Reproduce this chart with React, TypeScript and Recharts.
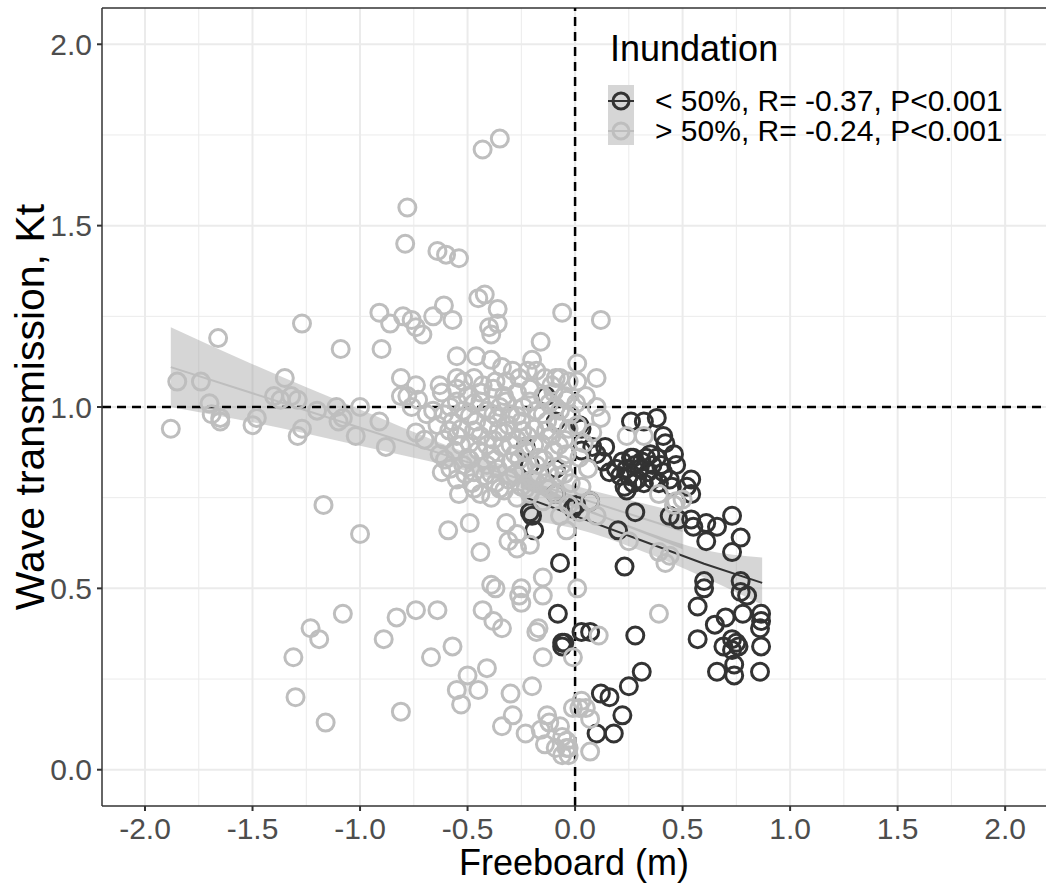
import React from "react";
import {
  Area,
  CartesianGrid,
  ComposedChart,
  Line,
  ReferenceLine,
  Scatter,
  XAxis,
  YAxis,
} from "recharts";

const FONT = '"Liberation Sans", Arial, Helvetica, sans-serif';
const DARK = "#333333";
const LIGHT = "#bebebe";

const xTicks = [-2, -1.5, -1, -0.5, 0, 0.5, 1, 1.5, 2];
const yTicks = [0, 0.5, 1, 1.5, 2];
const xMinor = [-1.75, -1.25, -0.75, -0.25, 0.25, 0.75, 1.25, 1.75];
const yMinor = [0.25, 0.75, 1.25, 1.75];

const legendLabels = [
  "< 50%, R= -0.37, P<0.001",
  "> 50%, R= -0.24, P<0.001",
];

// inundation < 50% (dark)
const below50: [number, number][] = [
  [-0.135, 1.03], [-0.09, 0.96], [-0.23, 0.89], [-0.21, 0.84], [-0.09, 0.83],
  [-0.09, 0.76], [-0.21, 0.71], [-0.2, 0.7], [0.02, 0.95], [0.03, 0.88],
  [0.005, 0.73], [-0.19, 0.66], [-0.07, 0.57], [-0.08, 0.43], [-0.06, 0.35],
  [-0.06, 0.34], [0.23, 0.56], [0.61, 0.63], [0.73, 0.6], [0.77, 0.64],
  [0.6, 0.52], [0.6, 0.5], [0.77, 0.52], [0.77, 0.49], [0.8, 0.48],
  [0.57, 0.45], [0.78, 0.43], [0.865, 0.43], [0.865, 0.41], [0.86, 0.39],
  [0.7, 0.42], [0.65, 0.4], [0.03, 0.38], [0.07, 0.38], [-0.05, 0.35],
  [0.28, 0.37], [0.57, 0.36], [0.69, 0.34], [0.73, 0.36], [0.75, 0.35],
  [0.73, 0.33], [0.76, 0.34], [0.865, 0.34], [0.74, 0.29], [0.66, 0.27],
  [0.74, 0.26], [0.86, 0.27], [0.31, 0.27], [0.25, 0.23], [0.12, 0.21],
  [0.16, 0.2], [0.22, 0.15], [0.1, 0.1], [0.18, 0.1],
  [0.38, 0.97], [0.26, 0.96], [0.32, 0.96], [0.03, 0.94], [0.41, 0.92],
  [0.42, 0.9], [0.46, 0.87], [0.47, 0.84], [0.08, 0.89], [0.14, 0.89],
  [0.1, 0.87], [0.13, 0.85], [0.16, 0.82], [0.26, 0.86], [0.33, 0.86],
  [0.38, 0.86], [0.24, 0.83], [0.3, 0.83], [0.36, 0.84], [0.41, 0.82],
  [0.21, 0.81], [0.27, 0.79], [0.32, 0.79], [0.39, 0.79], [0.44, 0.8],
  [0.24, 0.77], [0.45, 0.78], [0.54, 0.8], [0.54, 0.76], [0.52, 0.78],
  [0.44, 0.7], [0.48, 0.69], [0.54, 0.69], [0.55, 0.67], [0.61, 0.68],
  [0.66, 0.67], [0.73, 0.7], [0.28, 0.71], [0.2, 0.66], [0.07, 0.74],
  [-0.01, 0.72], [0.22, 0.85], [0.28, 0.84], [0.34, 0.82], [0.31, 0.85],
  [0.25, 0.81], [0.29, 0.8], [0.36, 0.8], [0.4, 0.84], [0.27, 0.86],
  [0.35, 0.87], [0.19, 0.83], [0.23, 0.78],
];

// inundation > 50% (light)
const above50: [number, number][] = [
  [-1.88, 0.94], [-1.85, 1.07], [-1.74, 1.07], [-1.66, 1.19], [-1.7, 1.01],
  [-1.69, 0.98], [-1.65, 0.97], [-1.65, 0.96], [-1.5, 0.95], [-1.48, 0.97],
  [-1.4, 1.03], [-1.37, 1.02], [-1.35, 1.08], [-1.32, 1.03], [-1.29, 1.02],
  [-1.27, 0.94], [-1.29, 0.92], [-1.27, 1.23], [-1.2, 0.99], [-1.11, 1.0],
  [-1.08, 0.97], [-1.1, 0.96], [-1.09, 1.16], [-1.17, 0.73], [-1.08, 0.43],
  [-1.23, 0.39], [-1.19, 0.36], [-1.31, 0.31], [-1.3, 0.2], [-1.16, 0.13],
  [-1.0, 0.65], [-1.0, 1.0], [-1.02, 0.92],
  [-0.91, 1.26], [-0.86, 1.23], [-0.8, 1.25], [-0.76, 1.24], [-0.74, 1.22],
  [-0.71, 1.2], [-0.66, 1.25], [-0.61, 1.28], [-0.57, 1.24], [-0.79, 1.45],
  [-0.78, 1.55], [-0.64, 1.43], [-0.6, 1.42], [-0.54, 1.41], [-0.9, 1.16],
  [-0.81, 1.08], [-0.74, 1.06], [-0.63, 1.06], [-0.55, 1.08], [-0.55, 1.14],
  [-0.81, 1.03], [-0.78, 1.03], [-0.73, 1.02], [-0.76, 1.0], [-0.91, 0.96],
  [-0.88, 0.89], [-0.69, 0.98], [-0.74, 0.93], [-0.7, 0.91], [-0.62, 0.82],
  [-0.54, 0.76], [-0.59, 0.66], [-0.74, 0.44], [-0.64, 0.44], [-0.83, 0.42],
  [-0.89, 0.36], [-0.67, 0.31], [-0.57, 0.34], [-0.81, 0.16],
  [-0.45, 1.3], [-0.42, 1.31], [-0.36, 1.27], [-0.4, 1.22], [-0.36, 1.23],
  [-0.43, 1.71], [-0.35, 1.74], [-0.16, 1.18], [-0.06, 1.26], [-0.39, 1.2],
  [-0.46, 1.14], [-0.39, 1.13], [-0.34, 1.11], [-0.2, 1.13], [-0.22, 1.1],
  [-0.47, 1.08], [-0.43, 1.06], [-0.32, 1.07], [-0.26, 1.08], [-0.14, 1.08],
  [-0.09, 1.08], [-0.11, 1.06],
  [0.01, 1.12], [0.1, 1.08], [0.01, 1.07], [-0.07, 1.08], [0.05, 1.03],
  [-0.05, 1.03], [0.1, 1.0], [0.005, 1.01], [0.24, 0.92], [0.32, 0.92],
  [0.39, 0.76], [0.47, 0.74], [0.5, 0.745], [0.46, 0.73], [0.12, 1.24],
  [-0.44, 0.6], [-0.31, 0.63], [-0.27, 0.61], [-0.21, 0.62], [-0.15, 0.53],
  [-0.39, 0.51], [-0.37, 0.5], [-0.25, 0.5], [-0.26, 0.48], [-0.25, 0.46],
  [-0.15, 0.48], [-0.43, 0.44], [-0.38, 0.41], [-0.34, 0.39], [-0.17, 0.39],
  [-0.18, 0.38], [-0.15, 0.31], [-0.01, 0.31], [-0.41, 0.28], [-0.5, 0.26],
  [-0.45, 0.22], [-0.55, 0.22], [-0.53, 0.18], [-0.2, 0.23], [-0.3, 0.21],
  [-0.29, 0.15], [-0.34, 0.12], [-0.23, 0.1], [-0.13, 0.15], [-0.12, 0.13],
  [-0.16, 0.11], [-0.14, 0.07], [-0.07, 0.12], [-0.06, 0.09], [-0.09, 0.06],
  [-0.04, 0.06], [-0.06, 0.04], [-0.03, 0.04], [-0.01, 0.17], [-0.49, 0.68],
  [-0.32, 0.68], [-0.27, 0.65], [-0.04, 0.66], [-0.07, 0.7],
  [0.25, 0.63], [0.39, 0.6], [0.44, 0.59], [0.42, 0.57], [0.01, 0.5],
  [0.39, 0.43], [0.11, 0.37], [0.03, 0.19], [0.02, 0.17], [0.07, 0.14],
  [0.05, 0.17], [-0.04, 0.08], [-0.03, 0.06], [0.07, 0.05],
  // dense cluster left of zero
  [-0.62, 1.04], [-0.55, 1.05], [-0.5, 1.03], [-0.44, 1.04], [-0.38, 1.05],
  [-0.33, 1.03], [-0.27, 1.04], [-0.21, 1.05], [-0.15, 1.03], [-0.1, 1.04],
  [-0.04, 1.02], [-0.66, 0.99], [-0.58, 1.0], [-0.52, 0.99], [-0.47, 1.01],
  [-0.41, 0.99], [-0.35, 1.0], [-0.3, 0.98], [-0.24, 1.0], [-0.18, 0.99],
  [-0.12, 1.01], [-0.07, 0.99], [-0.02, 0.98], [-0.64, 0.95], [-0.57, 0.96],
  [-0.53, 0.94], [-0.46, 0.96], [-0.4, 0.95], [-0.36, 0.97], [-0.31, 0.95],
  [-0.25, 0.96], [-0.19, 0.94], [-0.13, 0.96], [-0.08, 0.95], [-0.03, 0.94],
  [-0.61, 0.91], [-0.55, 0.92], [-0.49, 0.9], [-0.44, 0.92], [-0.38, 0.91],
  [-0.33, 0.93], [-0.27, 0.91], [-0.22, 0.92], [-0.16, 0.9], [-0.11, 0.92],
  [-0.05, 0.91], [-0.63, 0.87], [-0.56, 0.88], [-0.5, 0.86], [-0.45, 0.88],
  [-0.39, 0.87], [-0.34, 0.89], [-0.28, 0.87], [-0.23, 0.88], [-0.17, 0.86],
  [-0.1, 0.88], [-0.04, 0.87], [-0.58, 0.83], [-0.52, 0.84], [-0.47, 0.82],
  [-0.41, 0.84], [-0.36, 0.83], [-0.3, 0.85], [-0.24, 0.83], [-0.18, 0.84],
  [-0.12, 0.82], [-0.06, 0.84], [-0.55, 0.8], [-0.48, 0.79], [-0.42, 0.81],
  [-0.37, 0.79], [-0.31, 0.8], [-0.25, 0.78], [-0.2, 0.8], [-0.14, 0.79],
  [-0.08, 0.81], [-0.02, 0.79], [-0.44, 0.76], [-0.39, 0.75], [-0.33, 0.77],
  [-0.27, 0.75], [-0.21, 0.76], [-0.15, 0.74], [-0.09, 0.76], [-0.03, 0.73],
  [-0.52, 1.07], [-0.37, 1.07], [-0.29, 1.1], [-0.18, 1.1], [-0.03, 1.07],
  [-0.55, 1.015], [-0.44, 1.015], [-0.32, 1.015], [-0.21, 1.015], [-0.09, 1.0],
  [-0.61, 0.98], [-0.49, 0.975], [-0.38, 0.98], [-0.27, 0.975], [-0.15, 0.98],
  [-0.585, 0.935], [-0.47, 0.935], [-0.355, 0.935], [-0.245, 0.935],
  [-0.135, 0.935], [-0.53, 0.895], [-0.41, 0.895], [-0.3, 0.895], [-0.19, 0.895],
  [-0.075, 0.895], [-0.605, 0.855], [-0.49, 0.855], [-0.37, 0.855],
  [-0.26, 0.855], [-0.145, 0.855], [-0.51, 0.815], [-0.39, 0.815],
  [-0.28, 0.815], [-0.17, 0.815], [-0.05, 0.815], [-0.47, 0.775],
  [-0.35, 0.775], [-0.23, 0.775], [-0.12, 0.775],
  // right of zero
  [0.01, 0.95], [0.04, 0.9], [0.02, 0.86], [0.06, 0.83], [0.03, 0.78],
  [0.07, 0.74], [0.02, 0.71], [0.1, 0.7], [0.08, 0.93], [0.12, 0.97],
];

// linear fits with confidence band
const fitBelowX = [-0.25, 0, 0.3, 0.6, 0.87];
const fitBelowY = [0.755, 0.7, 0.634, 0.568, 0.515];
const fitBelowLo = [0.69, 0.665, 0.605, 0.53, 0.455];
const fitBelowHi = [0.82, 0.735, 0.663, 0.606, 0.585];

const fitAboveX = [-1.88, -1.5, -1.0, -0.5, 0, 0.5];
const fitAboveY = [1.11, 1.038, 0.943, 0.848, 0.753, 0.658];
const fitAboveLo = [1.0, 0.958, 0.893, 0.823, 0.723, 0.608];
const fitAboveHi = [1.22, 1.118, 0.993, 0.873, 0.783, 0.708];

const toPts = (arr: [number, number][]) => arr.map(([x, y]) => ({ x, y }));
const toFit = (xs: number[], ys: number[], lo: number[], hi: number[]) =>
  xs.map((x, i) => ({ x, y: ys[i], band: [lo[i], hi[i]] }));

const darkPts = toPts(below50);
const lightPts = toPts(above50);
const fitBelow = toFit(fitBelowX, fitBelowY, fitBelowLo, fitBelowHi);
const fitAbove = toFit(fitAboveX, fitAboveY, fitAboveLo, fitAboveHi);

const ring = (color: string) => (p: any) =>
  (
    <circle
      cx={p.cx}
      cy={p.cy}
      r={8.5}
      fill="none"
      stroke={color}
      strokeWidth={3}
    />
  );

const tickStyle = { fill: "#4d4d4d", fontSize: 30, fontFamily: FONT };

function LegendKey({ color, y }: { color: string; y: number }) {
  return (
    <g>
      <line x1={0} x2={26} y1={y} y2={y} stroke={color} strokeWidth={2} />
      <circle cx={13} cy={y} r={8} fill="none" stroke={color} strokeWidth={3} />
    </g>
  );
}

export default function App() {
  return (
    <div
      style={{
        position: "absolute",
        left: 0,
        top: 0,
        width: 1046,
        height: 888,
        background: "#ffffff",
        fontFamily: FONT,
        overflow: "hidden",
      }}
    >
      <ComposedChart
        width={1046}
        height={888}
        margin={{ top: 8, right: 0, bottom: 0, left: 0 }}
      >
        <CartesianGrid
          stroke="#ebebeb"
          strokeWidth={1}
          verticalValues={xMinor}
          horizontalValues={yMinor}
        />
        <CartesianGrid
          stroke="#ebebeb"
          strokeWidth={2}
          verticalValues={xTicks}
          horizontalValues={yTicks}
        />
        <XAxis
          type="number"
          dataKey="x"
          domain={[-2.2, 2.19]}
          allowDataOverflow
          ticks={xTicks}
          tickFormatter={(v: number) => v.toFixed(1)}
          tick={tickStyle}
          tickSize={5}
          tickMargin={7}
          height={82}
          axisLine={{ stroke: DARK, strokeWidth: 1.5 }}
          tickLine={{ stroke: DARK, strokeWidth: 2 }}
        />
        <YAxis
          type="number"
          dataKey="y"
          domain={[-0.1, 2.1]}
          allowDataOverflow
          ticks={yTicks}
          tickFormatter={(v: number) => v.toFixed(1)}
          tick={tickStyle}
          tickSize={5}
          tickMargin={5}
          width={102}
          axisLine={{ stroke: DARK, strokeWidth: 1.5 }}
          tickLine={{ stroke: DARK, strokeWidth: 2 }}
        />
        <ReferenceLine y={2.1} stroke={DARK} strokeWidth={1.5} />

        <Area
          data={fitAbove}
          dataKey="band"
          type="monotone"
          stroke="none"
          fill="#999999"
          fillOpacity={0.4}
          isAnimationActive={false}
        />
        <Area
          data={fitBelow}
          dataKey="band"
          type="monotone"
          stroke="none"
          fill="#999999"
          fillOpacity={0.4}
          isAnimationActive={false}
        />
        <Line
          data={fitAbove}
          dataKey="y"
          type="linear"
          stroke={LIGHT}
          strokeWidth={2}
          dot={false}
          isAnimationActive={false}
        />
        <Line
          data={fitBelow}
          dataKey="y"
          type="linear"
          stroke={DARK}
          strokeWidth={2}
          dot={false}
          isAnimationActive={false}
        />

        <Scatter
          data={darkPts}
          dataKey="y"
          shape={ring(DARK)}
          isAnimationActive={false}
        />
        <Scatter
          data={lightPts}
          dataKey="y"
          shape={ring(LIGHT)}
          isAnimationActive={false}
        />

        <ReferenceLine
          x={0}
          stroke="#000000"
          strokeWidth={2.5}
          strokeDasharray="9 6"
        />
        <ReferenceLine
          y={1}
          stroke="#000000"
          strokeWidth={2.5}
          strokeDasharray="9 6"
        />
      </ComposedChart>

      {/* axis titles */}
      <div
        style={{
          position: "absolute",
          left: 102,
          width: 944,
          top: 849,
          fontSize: 36,
          lineHeight: "28px",
          textAlign: "center",
          color: "#000",
        }}
      >
        Freeboard (m)
      </div>
      <div
        style={{
          position: "absolute",
          left: 30 - 300,
          top: 407 - 20,
          width: 600,
          fontSize: 41,
          lineHeight: "40px",
          textAlign: "center",
          color: "#000",
          transform: "rotate(-90deg)",
          transformOrigin: "center center",
        }}
      >
        Wave transmission, Kt
      </div>

      {/* legend */}
      <div style={{ position: "absolute", left: 608, top: 31 }}>
        <div style={{ fontSize: 36, lineHeight: "36px", marginLeft: 2 }}>
          Inundation
        </div>
        <div style={{ position: "absolute", left: 0, top: 54, display: "flex" }}>
          <svg width={26} height={60} style={{ display: "block" }}>
            <rect x={0} y={0} width={26} height={60} fill="#d6d6d6" />
            <LegendKey color={DARK} y={16} />
            <LegendKey color={LIGHT} y={46} />
          </svg>
          <div style={{ marginLeft: 21, marginTop: 1 }}>
            {legendLabels.map((t) => (
              <div
                key={t}
                style={{
                  fontSize: 30,
                  lineHeight: "30px",
                  height: 30,
                  whiteSpace: "nowrap",
                  color: "#000",
                }}
              >
                {t}
              </div>
            ))}
          </div>
        </div>
      </div>
    </div>
  );
}
